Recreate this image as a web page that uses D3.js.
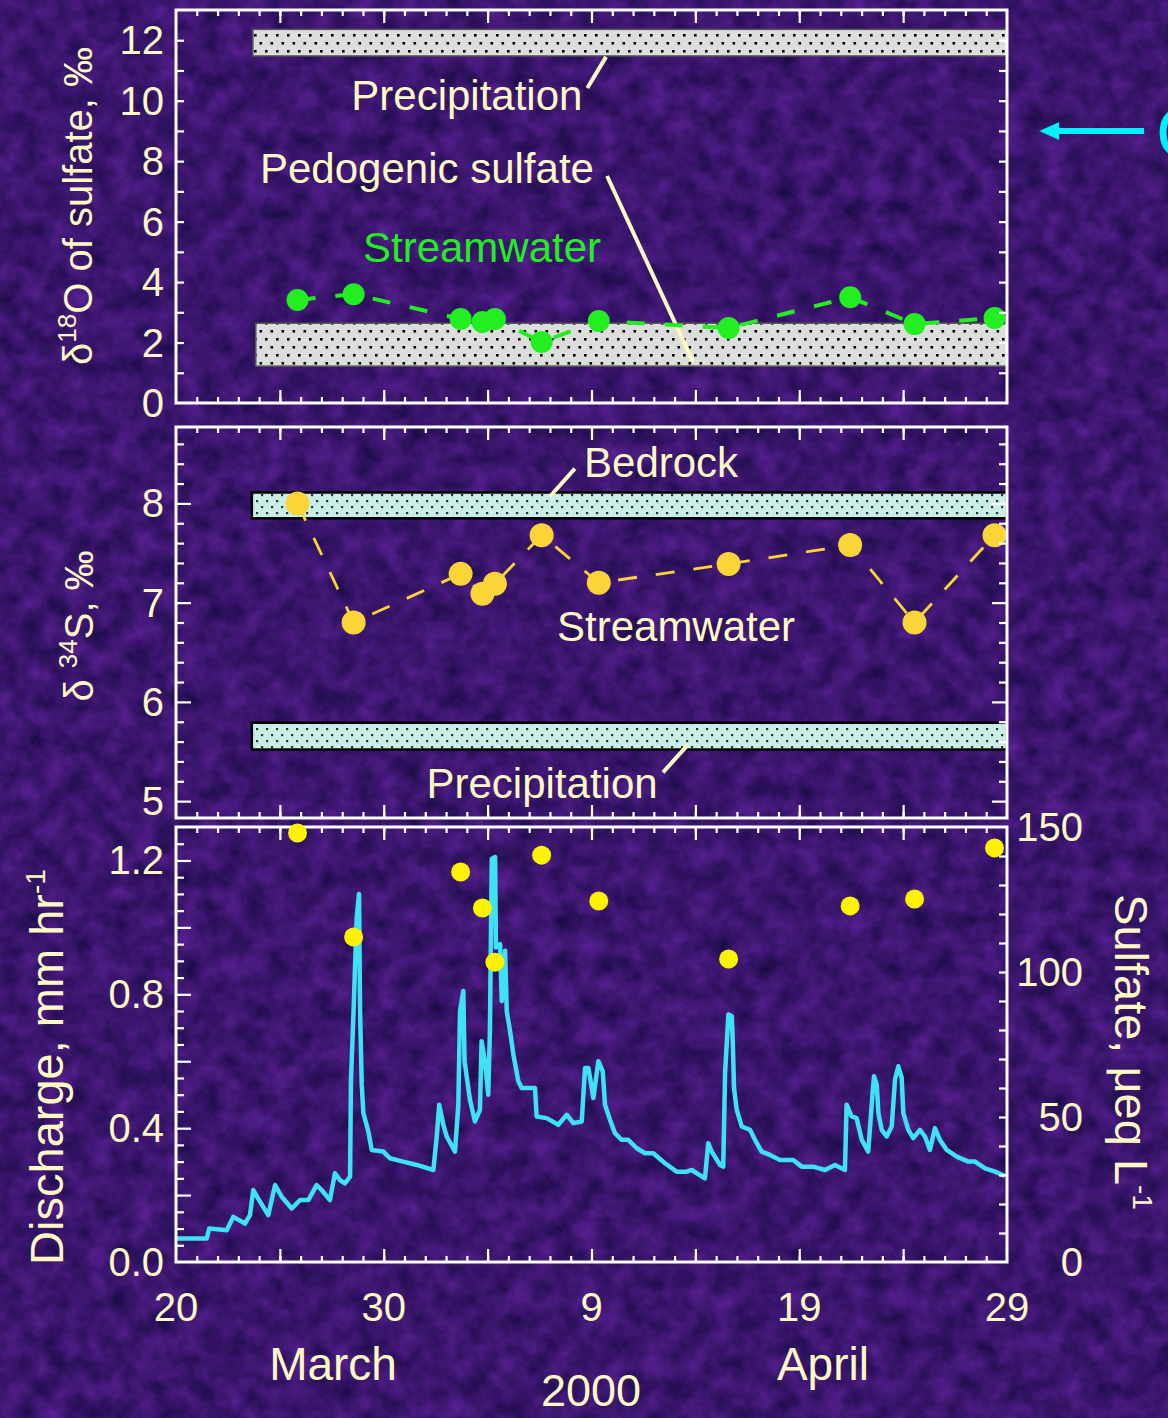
<!DOCTYPE html>
<html>
<head>
<meta charset="utf-8">
<script src="https://cdn.jsdelivr.net/npm/d3@7"></script>
<style>
  html, body { margin: 0; padding: 0; background: #3a166c; }
  svg { display: block; font-family: "Liberation Sans", Arial, sans-serif; }
</style>
</head>
<body>
<svg id="chart" width="1168" height="1418"></svg>
<script>
// x is days since 20 March 2000
const xTickDays = [0, 10, 20, 30, 40];
const xTickLabels = ["20", "30", "9", "19", "29"];
const monthLabels = ["March", "April"];
const yearLabel = "2000";

// stream samples (same dates for all three panels)
const sampleDays = [5.85, 8.55, 13.7, 14.75, 15.35, 17.6, 20.35, 26.6, 32.45, 35.55, 39.4];
const d18O = [3.41, 3.6, 2.78, 2.68, 2.78, 2.02, 2.71, 2.48, 3.5, 2.61, 2.81];
const d34S = [8.0, 6.8, 7.29, 7.09, 7.19, 7.68, 7.2, 7.39, 7.58, 6.8, 7.68];
const sulfate = [147.9, 112.1, 134.5, 122.1, 103.4, 140.3, 124.5, 104.5, 122.8, 125.2, 142.8];

// source ranges (start day, low, high)
const o18Precip = [3.7, 11.48, 12.36];
const o18Pedogenic = [3.84, 1.22, 2.64];
const s34Bedrock = [3.65, 7.85, 8.11];
const s34Precip = [3.65, 5.52, 5.79];

// discharge hydrograph, mm/hr
const qDays = [0.03, 1.48, 1.6, 2.44, 2.76, 3.32, 3.56, 3.72, 3.95, 4.44, 4.77, 5.09, 5.57, 5.97,
  6.37, 6.77, 7.01, 7.41, 7.65, 7.89, 8.13, 8.38, 8.42, 8.53, 8.7, 8.81, 8.86, 8.94, 9.02, 9.26,
  9.42, 9.98, 10.3, 10.94, 11.59, 12.39, 12.55, 12.67, 12.87, 13.03, 13.43, 13.59, 13.67, 13.83,
  13.89, 14.15, 14.39, 14.63, 14.71, 14.87, 15.03, 15.11, 15.2, 15.36, 15.4, 15.6, 15.68, 15.84,
  15.92, 16.08, 16.24, 16.48, 16.64, 17.28, 17.36, 17.84, 18.4, 18.81, 19.13, 19.53, 19.69, 19.85,
  20.09, 20.33, 20.54, 20.65, 20.89, 21.13, 21.45, 21.77, 22.18, 22.58, 22.97, 23.54, 24.1, 24.58,
  24.82, 25.46, 25.62, 25.79, 26.19, 26.34, 26.43, 26.59, 26.75, 26.8, 26.86, 26.99, 27.23, 27.63,
  27.87, 28.19, 28.59, 29.07, 29.71, 30.12, 30.67, 31.24, 31.72, 32.2, 32.28, 32.52, 32.76, 33.01,
  33.32, 33.53, 33.6, 33.73, 33.81, 33.97, 34.21, 34.45, 34.61, 34.77, 34.93, 35.01, 35.25, 35.49,
  35.81, 36.05, 36.29, 36.53, 36.77, 37.1, 37.58, 38.14, 38.46, 38.94, 39.42, 39.9];
const discharge = [0.07, 0.07, 0.1, 0.095, 0.135, 0.115, 0.14, 0.215, 0.19, 0.14, 0.23, 0.195, 0.16, 0.185,
  0.185, 0.23, 0.215, 0.185, 0.265, 0.245, 0.235, 0.255, 0.54, 0.72, 1.03, 1.1, 0.75, 0.53, 0.445, 0.39,
  0.335, 0.33, 0.31, 0.3, 0.29, 0.275, 0.375, 0.47, 0.41, 0.375, 0.33, 0.47, 0.75, 0.81,
  0.6, 0.485, 0.42, 0.455, 0.66, 0.6, 0.5, 0.69, 1.205, 1.21, 0.94, 0.95, 0.78, 0.93,
  0.75, 0.69, 0.62, 0.54, 0.52, 0.52, 0.435, 0.43, 0.41, 0.44, 0.415, 0.42, 0.58, 0.58,
  0.49, 0.6, 0.57, 0.47, 0.425, 0.385, 0.365, 0.365, 0.34, 0.325, 0.325, 0.295, 0.27, 0.27,
  0.275, 0.25, 0.355, 0.33, 0.29, 0.285, 0.565, 0.74, 0.735, 0.66, 0.52, 0.455, 0.405, 0.395,
  0.365, 0.33, 0.32, 0.305, 0.305, 0.285, 0.285, 0.275, 0.29, 0.275, 0.47, 0.435, 0.43, 0.365,
  0.33, 0.505, 0.555, 0.53, 0.445, 0.395, 0.375, 0.405, 0.545, 0.585, 0.55, 0.445, 0.395, 0.37,
  0.395, 0.375, 0.335, 0.4, 0.365, 0.335, 0.315, 0.3, 0.3, 0.28, 0.27, 0.257];

const cream = "#fff9c4";
const svg = d3.select("#chart");

// textured purple backdrop (kept dark and low-contrast)
const defs = svg.append("defs");
const tex = defs.append("filter").attr("id", "tex")
  .attr("x", 0).attr("y", 0).attr("width", "100%").attr("height", "100%")
  .attr("color-interpolation-filters", "sRGB");
tex.append("feTurbulence").attr("type", "fractalNoise")
  .attr("baseFrequency", 0.045).attr("numOctaves", 4).attr("seed", 7);
tex.append("feColorMatrix").attr("type", "matrix")
  .attr("values", "0.3 0 0 0 0.08  0.1 0 0 0 0.035  0.36 0 0 0 0.25  0 0 0 0 1");
svg.append("rect").attr("width", 1168).attr("height", 1418).attr("filter", "url(#tex)");

// dotted fills for the source bands
function dotPattern(id, bg, dot, w, h, r) {
  const p = defs.append("pattern").attr("id", id).attr("patternUnits", "userSpaceOnUse")
    .attr("width", w).attr("height", h);
  p.append("rect").attr("width", w).attr("height", h).attr("fill", bg);
  p.append("rect").attr("x", 1).attr("y", 2).attr("width", r).attr("height", r).attr("fill", dot);
  p.append("rect").attr("x", 1 + w / 2).attr("y", 2 + h / 2).attr("width", r).attr("height", r).attr("fill", dot);
}
dotPattern("dotsGrey", "#dcdedb", "#000", 11, 16, 2.6);
dotPattern("dotsCyan", "#c9eee8", "#333", 10, 12, 2.2);

const x = d3.scaleLinear().domain([0, 40]).range([176, 1007]);
const yO = d3.scaleLinear().domain([0, 13]).range([403, 10]);
const yS = d3.scaleLinear().domain([4.83, 8.77]).range([818, 427]);
const yQ = d3.scaleLinear().domain([0, 1.3]).range([1262, 827]);
const ySO4 = d3.scaleLinear().domain([0, 150]).range([1262, 827]);

const dayMinor = d3.range(1, 40);
const dayMajor = d3.range(5, 40, 5);

function ticks(axisFn, scale, values, size, transform) {
  svg.append("g").attr("transform", transform)
    .call(axisFn(scale).tickValues(values).tickSize(-size).tickFormat(""))
    .call(a => a.select(".domain").remove())
    .selectAll("line").attr("stroke", "#fff").attr("stroke-width", 2.2);
}

// Frame with day ticks top and bottom plus y ticks on both sides.
function frame(y, leftMinor, leftMajor, rightMinor, rightMajor, rightScale) {
  const [b, t] = y.range();
  ticks(d3.axisTop, x, dayMinor, 6, `translate(0,${t})`);
  ticks(d3.axisTop, x, dayMajor, 13, `translate(0,${t})`);
  ticks(d3.axisBottom, x, dayMinor, 6, `translate(0,${b})`);
  ticks(d3.axisBottom, x, dayMajor, 13, `translate(0,${b})`);
  ticks(d3.axisLeft, y, leftMinor, 8, `translate(${x(0)},0)`);
  ticks(d3.axisLeft, y, leftMajor, 15, `translate(${x(0)},0)`);
  const rs = rightScale || y;
  ticks(d3.axisRight, rs, rightMinor, 8, `translate(${x(40)},0)`);
  ticks(d3.axisRight, rs, rightMajor, 15, `translate(${x(40)},0)`);
  svg.append("rect").attr("x", x(0)).attr("y", t)
    .attr("width", x(40) - x(0)).attr("height", b - t)
    .attr("fill", "none").attr("stroke", "#fff").attr("stroke-width", 3);
}

function yLabels(y, values, fmt) {
  svg.append("g").selectAll("text").data(values).join("text")
    .attr("x", x(0) - 12).attr("y", d => y(d)).attr("dy", "0.35em")
    .attr("text-anchor", "end").attr("font-size", 40).attr("fill", cream)
    .text(fmt);
}

function band(y, range, fill, stroke, sw) {
  svg.append("rect").attr("x", x(range[0])).attr("y", y(range[2]))
    .attr("width", x(40) - x(range[0])).attr("height", y(range[1]) - y(range[2]))
    .attr("fill", fill).attr("stroke", stroke).attr("stroke-width", sw);
}

function note(y, text, day, val, color) {
  svg.append("text").attr("x", x(day)).attr("y", y(val)).attr("dy", "0.35em")
    .attr("text-anchor", "middle").attr("font-size", 42).attr("fill", color || cream)
    .text(text);
}

function leader(y, d0, v0, d1, v1) {
  svg.append("line").attr("x1", x(d0)).attr("y1", y(v0)).attr("x2", x(d1)).attr("y2", y(v1))
    .attr("stroke", cream).attr("stroke-width", 4);
}

function series(y, values, color, r, dash, sw) {
  const pts = sampleDays.map((d, i) => [d, values[i]]);
  svg.append("path").datum(pts)
    .attr("d", d3.line().x(d => x(d[0])).y(d => y(d[1])))
    .attr("fill", "none").attr("stroke", color).attr("stroke-width", sw)
    .attr("stroke-dasharray", dash);
  svg.append("g").selectAll("circle").data(pts).join("circle")
    .attr("cx", d => x(d[0])).attr("cy", d => y(d[1])).attr("r", r).attr("fill", color);
}

function rotatedTitle(cx, cy, angle, parts) {
  const t = svg.append("text").attr("transform", `translate(${cx},${cy}) rotate(${angle})`)
    .attr("text-anchor", "middle").attr("fill", cream).attr("font-size", 40);
  parts.forEach(p => {
    const s = t.append("tspan").text(p.t);
    if (p.size) s.attr("font-size", p.size);
    if (p.dy) s.attr("dy", p.dy);
  });
  return t;
}

// ---- top panel: d18O of sulfate
band(yO, o18Precip, "url(#dotsGrey)", "#555", 1.5);
band(yO, o18Pedogenic, "url(#dotsGrey)", "#555", 1.5);
note(yO, "Precipitation", 14.0, 10.19);
leader(yO, 19.8, 10.42, 20.7, 11.45);
note(yO, "Pedogenic sulfate", 12.08, 7.77);
leader(yO, 20.75, 7.51, 24.89, 1.36);
note(yO, "Streamwater", 14.73, 5.16, "#22ee22");
series(yO, d18O, "#22ee22", 11, "18,20", 4);
frame(yO, d3.range(1, 13), [], d3.range(1, 13), []);
yLabels(yO, d3.range(0, 13, 2), d => d);
rotatedTitle(92, 206, -90, [{t: "\u03b4"}, {t: "18", size: 26, dy: -16}, {t: "O of sulfate, \u2030", dy: 16}]);

// ---- middle panel: d34S
band(yS, s34Bedrock, "url(#dotsCyan)", "#000", 2.5);
band(yS, s34Precip, "url(#dotsCyan)", "#000", 2.5);
note(yS, "Bedrock", 23.35, 8.41);
leader(yS, 19.2, 8.35, 18.0, 8.07);
note(yS, "Streamwater", 24.07, 6.76);
note(yS, "Precipitation", 17.62, 5.18);
leader(yS, 23.44, 5.29, 24.65, 5.57);
series(yS, d34S, "#fbd437", 12, "19,19", 2.8);
const sMinor = d3.range(5, 8.7, 0.2).filter(v => Math.abs(v - Math.round(v)) > 0.01);
frame(yS, sMinor, [5, 6, 7, 8], sMinor, [5, 6, 7, 8]);
yLabels(yS, [5, 6, 7, 8], d => d);
rotatedTitle(93, 626, -90, [{t: "\u03b4 "}, {t: "34", size: 26, dy: -16}, {t: "S, \u2030", dy: 16}]);

// ---- bottom panel: discharge and sulfate
const qPts = qDays.map((d, i) => [d, discharge[i]]);
svg.append("path").datum(qPts)
  .attr("d", d3.line().x(d => x(d[0])).y(d => yQ(d[1])))
  .attr("fill", "none").attr("stroke", "#3fe2f4").attr("stroke-width", 4.5)
  .attr("stroke-linejoin", "round");
const qMinor = d3.range(0.05, 1.3, 0.05).filter(v => Math.abs(v / 0.2 - Math.round(v / 0.2)) > 0.01);
frame(yQ, qMinor, [0.2, 0.4, 0.6, 0.8, 1.0, 1.2], d3.range(10, 150, 10), [], ySO4);
svg.append("g").selectAll("circle").data(sampleDays.map((d, i) => [d, sulfate[i]])).join("circle")
  .attr("cx", d => x(d[0])).attr("cy", d => ySO4(d[1])).attr("r", 9.5).attr("fill", "#fff200");
yLabels(yQ, [0, 0.4, 0.8, 1.2], d3.format(".1f"));
svg.append("g").selectAll("text").data([0, 50, 100, 150]).join("text")
  .attr("x", x(40) + 76).attr("y", d => ySO4(d)).attr("dy", "0.35em")
  .attr("text-anchor", "end").attr("font-size", 40).attr("fill", cream).text(d => d);
rotatedTitle(63, 1067, -90, [{t: "Discharge, mm hr"}, {t: "-1", size: 28, dy: -18}]).attr("font-size", 47);
rotatedTitle(1115, 1052, 90, [{t: "Sulfate, \u03bceq L"}, {t: "-1", size: 28, dy: -18}]).attr("font-size", 47);

// x axis labels
svg.append("g").selectAll("text").data(xTickDays).join("text")
  .attr("x", d => x(d)).attr("y", 1321).attr("text-anchor", "middle")
  .attr("font-size", 40).attr("fill", cream).text((d, i) => xTickLabels[i]);
svg.append("g").selectAll("text").data(monthLabels).join("text")
  .attr("x", (d, i) => x(i === 0 ? 7.56 : 31.14)).attr("y", 1380).attr("text-anchor", "middle")
  .attr("font-size", 46).attr("fill", cream).text(d => d);
svg.append("text").attr("x", x(19.98)).attr("y", 1406).attr("text-anchor", "middle")
  .attr("font-size", 45).attr("fill", cream).text(yearLabel);

// cyan pointer at the right edge
const ay = yO(9);
svg.append("line").attr("x1", x(41.9)).attr("y1", ay).attr("x2", x(46.6)).attr("y2", ay)
  .attr("stroke", "#00f0f8").attr("stroke-width", 6);
svg.append("path").attr("d", `M${x(41.55)},${ay} l20,-9 l0,18 z`).attr("fill", "#00f0f8");
svg.append("text").attr("x", 1156).attr("y", 158).attr("font-size", 72)
  .attr("fill", "#00f0f8").text("C");
</script>
</body>
</html>
